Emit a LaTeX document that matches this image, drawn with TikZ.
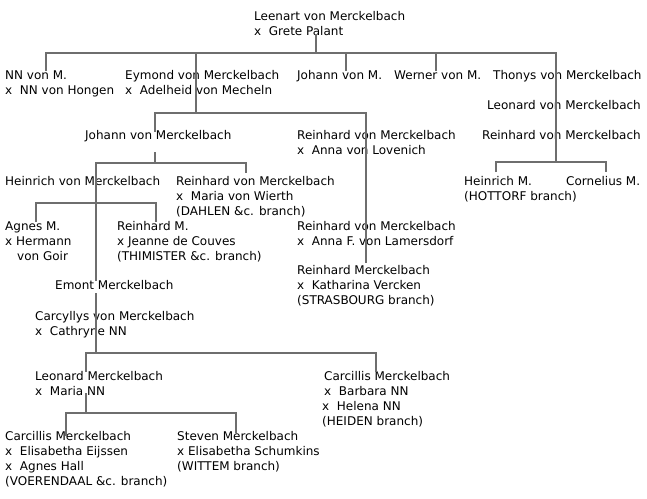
\documentclass[tikz,border=0pt]{standalone}
\usepackage{fontspec}
\setmainfont{DejaVu Sans}
\definecolor{treegray}{HTML}{6E6E6E}
\newcommand\mx{x\ \ }
\newcommand\pers[4]{\node[person] (#1) at (#2-1,#3-6) {\strut #4};}
\tikzset{
  person/.style={anchor=north west, inner sep=0pt, align=left, font=\fontsize{12}{15}\selectfont},
  link/.style={draw=treegray, line width=1.8pt},
}
\begin{document}
\begin{tikzpicture}[x=1pt,y=-1pt]
\useasboundingbox (0,0) rectangle (647,498);
% people
\pers{leenart}{255}{16}{Leenart von Merckelbach\\\mx Grete Palant}
\pers{nn}{6}{75}{NN von M.\\\mx NN von Hongen}
\pers{eymond}{126}{75}{Eymond von Merckelbach\\\mx Adelheid von Mecheln}
\pers{johannM}{298}{75}{Johann von M.}
\pers{werner}{395}{75}{Werner von M.}
\pers{thonys}{494}{75}{Thonys von Merckelbach}
\pers{leonardT}{488}{105}{Leonard von Merckelbach}
\pers{reinhardT}{483}{135}{Reinhard von Merckelbach}
\pers{heinrichM}{465}{181}{Heinrich M.\\(HOTTORF branch)}
\pers{cornelius}{567}{181}{Cornelius M.}
\pers{johann}{86}{135}{Johann von Merckelbach}
\pers{reinhardL}{298}{135}{Reinhard von Merckelbach\\\mx Anna von Lovenich}
\pers{heinrich}{6}{181}{Heinrich von Merckelbach}
\pers{reinhardW}{177}{181}{Reinhard von Merckelbach\\\mx Maria von Wierth\\(DAHLEN \&c. branch)}
\pers{agnes}{6}{226}{Agnes M.\\x Hermann\\\hspace*{12pt}von Goir}
\pers{reinhardM}{118}{226}{Reinhard M.\\x Jeanne de Couves\\(THIMISTER \&c. branch)}
\pers{reinhardLa}{298}{226}{Reinhard von Merckelbach\\\mx Anna F. von Lamersdorf}
\pers{reinhardS}{298}{270}{Reinhard Merckelbach\\\mx Katharina Vercken\\(STRASBOURG branch)}
\pers{emont}{56}{285}{Emont Merckelbach}
\pers{carcyllys}{36}{316}{Carcyllys von Merckelbach\\\mx Cathryne NN}
\pers{leonard}{36}{376}{Leonard Merckelbach\\\mx Maria NN}
\pers{carcillisH}{325}{376}{Carcillis Merckelbach\\\mx Barbara NN\\\hspace*{-2pt}\mx Helena NN\\\hspace*{-2pt}(HEIDEN branch)}
\pers{carcillisV}{6}{436}{Carcillis Merckelbach\\\mx Elisabetha Eijssen\\\mx Agnes Hall\\(VOERENDAAL \&c. branch)}
\pers{steven}{178}{436}{Steven Merckelbach\\x Elisabetha Schumkins\\(WITTEM branch)}
% junction coordinates
\coordinate (leenartS) at (316,34);
\coordinate (barA) at (316,53);
\coordinate (nnT) at (46,71);
\coordinate (nnJ) at (46,53);
\coordinate (eymJ) at (196,53);
\coordinate (johMJ) at (346,53);
\coordinate (johMT) at (346,71);
\coordinate (werJ) at (436,53);
\coordinate (werT) at (436,71);
\coordinate (thoJ) at (556,53);
\coordinate (thoB) at (556,162);
\coordinate (hmT) at (496,172);
\coordinate (hmJ) at (496,162);
\coordinate (coJ) at (606,162);
\coordinate (coT) at (606,172);
\coordinate (eymB) at (196,113);
\coordinate (johT) at (155,132);
\coordinate (johJ) at (155,113);
\coordinate (rlJ) at (366,113);
\coordinate (rsT) at (366,263);
\coordinate (johS) at (155,152);
\coordinate (johB) at (155,163);
\coordinate (heiJ) at (96,163);
\coordinate (heiE) at (96,281);
\coordinate (rwJ) at (246,163);
\coordinate (rwT) at (246,173);
\coordinate (agT) at (36,222);
\coordinate (agJ) at (36,203);
\coordinate (rmJ) at (156,203);
\coordinate (rmT) at (156,222);
\coordinate (emS) at (96,293);
\coordinate (carB) at (96,353);
\coordinate (leoT) at (86,372);
\coordinate (leoJ) at (86,353);
\coordinate (chJ) at (376,353);
\coordinate (chT) at (376,372);
\coordinate (leoS) at (86,393);
\coordinate (leoB) at (86,413);
\coordinate (cvT) at (66,436);
\coordinate (cvJ) at (66,413);
\coordinate (stJ) at (236,413);
\coordinate (stT) at (236,433);
% connectors
\draw[link] (leenartS) -- (barA);
\draw[link] (nnT) -- (nnJ) -- (thoJ) -- (thoB);
\draw[link] (eymJ) -- (eymB);
\draw[link] (johMJ) -- (johMT);
\draw[link] (werJ) -- (werT);
\draw[link] (hmT) -- (hmJ) -- (coJ) -- (coT);
\draw[link] (johT) -- (johJ) -- (rlJ) -- (rsT);
\draw[link] (johS) -- (johB);
\draw[link] (heiE) -- (heiJ) -- (rwJ) -- (rwT);
\draw[link] (agT) -- (agJ) -- (rmJ) -- (rmT);
\draw[link] (emS) -- (carB);
\draw[link] (leoT) -- (leoJ) -- (chJ) -- (chT);
\draw[link] (leoS) -- (leoB);
\draw[link] (cvT) -- (cvJ) -- (stJ) -- (stT);
\end{tikzpicture}
\end{document}
